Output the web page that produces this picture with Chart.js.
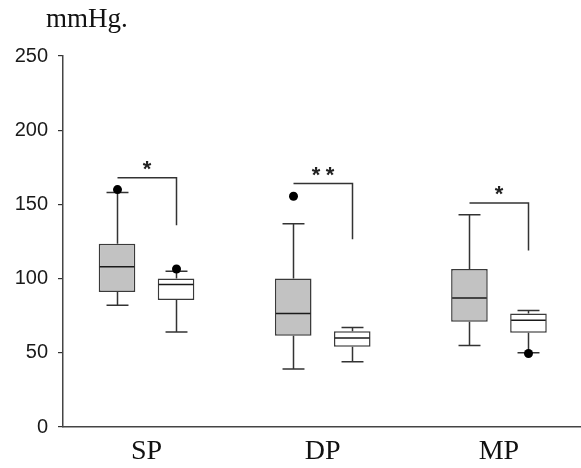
<!DOCTYPE html>
<html>
<head>
<meta charset="utf-8">
<script src="https://cdn.jsdelivr.net/npm/chart.js@4.4.1/dist/chart.umd.min.js"></script>
<style>
  body { margin: 0; background: #fff; }
  canvas { display: block; }
</style>
</head>
<body>
<canvas id="chart" width="581" height="468"></canvas>
<script>
var categories = ['SP', 'DP', 'MP'];
var unitLabel = 'mmHg.';

// gray boxes (first group)
var grayMin = [82, 39, 55];
var grayQ1 = [91, 61.5, 71];
var grayMedian = [108, 76.5, 87];
var grayQ3 = [123.5, 100, 106.5];
var grayMax = [158, 137, 143];
var grayOutliers = [[160], [155.5], []];

// white boxes (second group)
var whiteMin = [64, 44, 50];
var whiteQ1 = [85.5, 54, 63.5];
var whiteMedian = [96, 60, 72];
var whiteQ3 = [100, 64.5, 76.5];
var whiteMax = [105, 67, 78.5];
var whiteOutliers = [[106.5], [], [49.5]];

// significance brackets
var sigLabels = ['*', '**', '*'];
var sigTop = [168, 164, 151];
var sigBottom = [136, 126.5, 119];

var catIndex = categories.map(function (c, i) { return i + 1; });

var groups = [
    { min: grayMin, q1: grayQ1, med: grayMedian, q3: grayQ3, max: grayMax, out: grayOutliers },
    { min: whiteMin, q1: whiteQ1, med: whiteMedian, q3: whiteQ3, max: whiteMax, out: whiteOutliers }
];

function boxData(g) {
    return catIndex.map(function (x, i) { return { x: x, y: [g.q1[i], g.q3[i]] }; });
}

var boxExtras = {
    id: 'boxExtras',
    afterDatasetsDraw: function (chart) {
        var ctx = chart.ctx;
        var yScale = chart.scales.y;
        var py = function (v) { return yScale.getPixelForValue(v); };

        groups.forEach(function (g, d) {
            var meta = chart.getDatasetMeta(d);
            meta.data.forEach(function (bar, i) {
                var x = Math.round(bar.x) + 0.5;
                var half = bar.width / 2;
                var cap = bar.width * 0.3;
                ctx.save();
                ctx.strokeStyle = '#333';
                ctx.lineWidth = 1.5;
                ctx.beginPath();
                // whiskers
                ctx.moveTo(x, py(g.q3[i])); ctx.lineTo(x, py(g.max[i]));
                ctx.moveTo(x - cap, py(g.max[i])); ctx.lineTo(x + cap, py(g.max[i]));
                ctx.moveTo(x, py(g.q1[i])); ctx.lineTo(x, py(g.min[i]));
                ctx.moveTo(x - cap, py(g.min[i])); ctx.lineTo(x + cap, py(g.min[i]));
                ctx.stroke();
                // median
                ctx.strokeStyle = '#1a1a1a';
                ctx.beginPath();
                ctx.moveTo(bar.x - half + 1, py(g.med[i]));
                ctx.lineTo(bar.x + half - 1, py(g.med[i]));
                ctx.stroke();
                // outliers
                ctx.fillStyle = '#000';
                g.out[i].forEach(function (v) {
                    ctx.beginPath();
                    ctx.arc(x, py(v), 4.5, 0, Math.PI * 2);
                    ctx.fill();
                });
                ctx.restore();
            });
        });

        // significance brackets
        var grayMeta = chart.getDatasetMeta(0);
        var whiteMeta = chart.getDatasetMeta(1);
        ctx.save();
        ctx.strokeStyle = '#333';
        ctx.lineWidth = 1.5;
        ctx.fillStyle = '#222';
        ctx.font = 'bold 22px "Liberation Sans", Arial, sans-serif';
        ctx.textAlign = 'center';
        ctx.textBaseline = 'alphabetic';
        sigLabels.forEach(function (lab, i) {
            var x0 = Math.round(grayMeta.data[i].x) + 0.5;
            var x1 = Math.round(whiteMeta.data[i].x) + 0.5;
            var yt = py(sigTop[i]);
            ctx.beginPath();
            ctx.moveTo(x0, yt);
            ctx.lineTo(x1, yt);
            ctx.lineTo(x1, py(sigBottom[i]));
            ctx.stroke();
            var mid = (x0 + x1) / 2;
            var step = 14;
            for (var k = 0; k < lab.length; k++) {
                ctx.fillText(lab[k], mid + (k - (lab.length - 1) / 2) * step, yt - 2);
            }
        });
        ctx.restore();
    },
    afterDraw: function (chart) {
        var ctx = chart.ctx;
        ctx.save();
        ctx.fillStyle = '#111';
        ctx.font = '27px "Liberation Serif", "Times New Roman", serif';
        ctx.textAlign = 'left';
        ctx.textBaseline = 'alphabetic';
        ctx.fillText(unitLabel, 46, 27);
        ctx.restore();
    }
};

new Chart(document.getElementById('chart').getContext('2d'), {
    type: 'bar',
    data: {
        datasets: [
            {
                label: 'gray',
                data: boxData(groups[0]),
                backgroundColor: '#c2c2c2',
                borderColor: '#3a3a3a',
                borderWidth: 1.5,
                borderSkipped: false,
                categoryPercentage: 0.67,
                barPercentage: 0.62
            },
            {
                label: 'white',
                data: boxData(groups[1]),
                backgroundColor: '#ffffff',
                borderColor: '#3a3a3a',
                borderWidth: 1.5,
                borderSkipped: false,
                categoryPercentage: 0.67,
                barPercentage: 0.62
            }
        ]
    },
    options: {
        responsive: false,
        animation: false,
        layout: { padding: { top: 56, right: 1, left: 0, bottom: 0 } },
        plugins: {
            legend: { display: false },
            tooltip: { enabled: false },
            title: { display: false }
        },
        scales: {
            x: {
                type: 'linear',
                offset: false,
                min: 0.526,
                max: 3.46,
                afterBuildTicks: function (scale) {
                    scale.ticks = catIndex.map(function (v) { return { value: v }; });
                },
                afterFit: function (scale) { scale.height = 41; },
                grid: { display: false, drawTicks: false, offset: false },
                border: { display: true, color: '#444', width: 1.5 },
                ticks: {
                    padding: 8,
                    color: '#111',
                    font: { family: '"Liberation Serif", "Times New Roman", serif', size: 28 },
                    callback: function (value) { return categories[value - 1] || ''; }
                }
            },
            y: {
                min: 0,
                max: 250,
                afterFit: function (scale) { scale.width = 63; },
                grid: { drawOnChartArea: false, drawTicks: true, tickLength: 5, color: '#333', tickColor: '#333', lineWidth: 1.2 },
                border: { display: true, color: '#444', width: 1.5 },
                ticks: {
                    stepSize: 50,
                    padding: 10,
                    color: '#1a1a1a',
                    font: { family: '"Liberation Sans", Arial, sans-serif', size: 20 }
                }
            }
        }
    },
    plugins: [boxExtras]
});
</script>
</body>
</html>
